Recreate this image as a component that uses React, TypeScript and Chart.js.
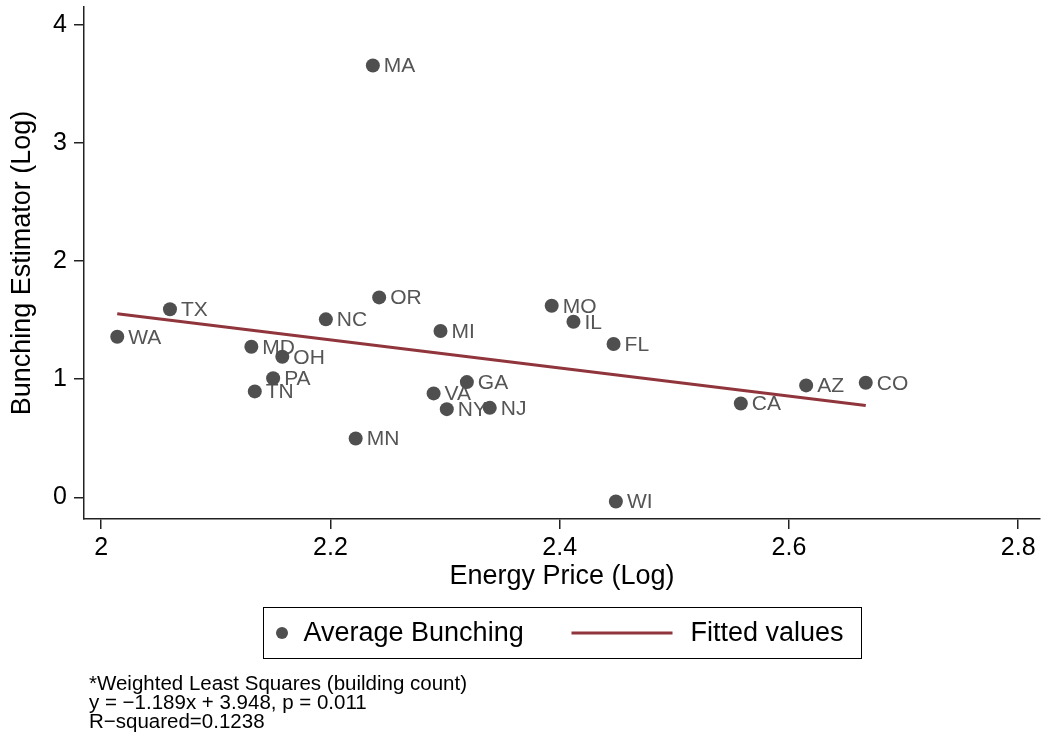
import React, { useEffect, useRef } from 'react';
import { Chart, registerables } from 'chart.js';

Chart.register(...registerables);

const FONT = '"Liberation Sans", Arial, Helvetica, sans-serif';

// State-level observations
const states = ['WA', 'TX', 'MD', 'OH', 'PA', 'TN', 'NC', 'OR', 'MN', 'MA', 'MI', 'VA', 'GA', 'NY', 'NJ', 'MO', 'IL', 'FL', 'WI', 'CA', 'AZ', 'CO'];
const energyPrice = [2.014, 2.06, 2.131, 2.158, 2.15, 2.134, 2.196, 2.2425, 2.222, 2.237, 2.296, 2.29, 2.319, 2.3015, 2.339, 2.393, 2.412, 2.447, 2.449, 2.558, 2.615, 2.667];
const bunching = [1.359, 1.591, 1.274, 1.189, 1.008, 0.896, 1.506, 1.692, 0.497, 3.655, 1.407, 0.879, 0.975, 0.746, 0.757, 1.621, 1.486, 1.297, -0.036, 0.794, 0.947, 0.969];

// Weighted least squares fit
const fitSlope = -1.189;
const fitIntercept = 3.948;

const xTicks = [2, 2.2, 2.4, 2.6, 2.8];
const yTicks = [0, 1, 2, 3, 4];

const noteLines = [
  '*Weighted Least Squares (building count)',
  'y = \u22121.189x + 3.948, p = 0.011',
  'R\u2212squared=0.1238',
];

const MARKER = '#4f4f4f';
const LABEL = '#555555';
const FIT = '#90353b';
const AXIS = '#222222';

const annotate = {
  id: 'annotate',
  beforeDatasetsDraw(chart: any) {
    const ctx = chart.ctx;
    const meta = chart.getDatasetMeta(0);
    ctx.save();
    ctx.font = `21px ${FONT}`;
    ctx.fillStyle = LABEL;
    ctx.textBaseline = 'middle';
    ctx.textAlign = 'left';
    meta.data.forEach((el: any, i: number) => {
      ctx.fillText(states[i], el.x + 11, el.y + 1);
    });
    ctx.restore();
  },
  afterDraw(chart: any) {
    const ctx = chart.ctx;
    const area = chart.chartArea;
    const cx = (area.left + area.right) / 2;
    const boxW = 598;
    const left = Math.round(cx - boxW / 2) + 0.5;
    const top = 607.5;
    const boxH = 51;
    const midY = top + boxH / 2;
    ctx.save();
    ctx.strokeStyle = '#000';
    ctx.lineWidth = 1;
    ctx.strokeRect(left, top, boxW, boxH);

    ctx.fillStyle = MARKER;
    ctx.beginPath();
    ctx.arc(left + 18.5, midY, 6, 0, Math.PI * 2);
    ctx.fill();

    ctx.font = `27px ${FONT}`;
    ctx.fillStyle = '#000';
    ctx.textBaseline = 'middle';
    ctx.fillText('Average Bunching', left + 40, midY + 1);

    ctx.strokeStyle = FIT;
    ctx.lineWidth = 3;
    ctx.beginPath();
    ctx.moveTo(left + 308, midY);
    ctx.lineTo(left + 409, midY);
    ctx.stroke();

    ctx.fillStyle = '#000';
    ctx.fillText('Fitted values', left + 427, midY + 1);

    ctx.font = `20.5px ${FONT}`;
    ctx.textBaseline = 'middle';
    noteLines.forEach((t, i) => {
      ctx.fillText(t, 89, 684 + i * 19);
    });
    ctx.restore();
  },
};

const noEdgePadding = (s: any) => {
  s.paddingTop = 0;
  s.paddingBottom = 0;
  s.paddingLeft = 0;
  s.paddingRight = 0;
};

export default function App() {
  const ref = useRef<HTMLCanvasElement>(null);

  useEffect(() => {
    const points = energyPrice.map((x, i) => ({ x, y: bunching[i] }));
    const xMin = Math.min(...energyPrice);
    const xMax = Math.max(...energyPrice);
    const fitted = [
      { x: xMin, y: fitSlope * xMin + fitIntercept },
      { x: xMax, y: fitSlope * xMax + fitIntercept },
    ];

    const chart = new Chart(ref.current as HTMLCanvasElement, {
      type: 'scatter',
      data: {
        datasets: [
          {
            label: 'Average Bunching',
            data: points,
            pointRadius: 7,
            pointBackgroundColor: MARKER,
            pointBorderWidth: 0,
            backgroundColor: MARKER,
            order: 1,
          },
          {
            type: 'line',
            label: 'Fitted values',
            data: fitted,
            borderColor: FIT,
            borderWidth: 3,
            pointRadius: 0,
            showLine: true,
            fill: false,
            order: 0,
          } as any,
        ],
      },
      options: {
        responsive: false,
        animation: false,
        devicePixelRatio: 1,
        layout: { autoPadding: false, padding: { top: 7, right: 8, left: 0, bottom: 143 } },
        plugins: {
          legend: { display: false },
          tooltip: { enabled: false },
        },
        scales: {
          x: {
            type: 'linear',
            min: 1.985,
            max: 2.819,
            afterBuildTicks: (s: any) => {
              s.ticks = xTicks.map((v) => ({ value: v }));
            },
            afterFit: (s: any) => {
              s.height = 80;
              noEdgePadding(s);
            },
            grid: { display: true, drawOnChartArea: false, drawTicks: true, tickLength: 10, color: AXIS, lineWidth: 1.5 },
            border: { display: true, color: AXIS, width: 1.5 },
            ticks: {
              color: '#000',
              font: { family: FONT, size: 25 },
              padding: 4,
              maxRotation: 0,
              autoSkip: false,
              callback: (v: any) => String(v),
            },
            title: {
              display: true,
              text: 'Energy Price (Log)',
              color: '#000',
              font: { family: FONT, size: 27 },
              padding: { top: 0, bottom: 6 },
            },
          },
          y: {
            type: 'linear',
            min: -0.184,
            max: 4.15,
            afterBuildTicks: (s: any) => {
              s.ticks = yTicks.map((v) => ({ value: v }));
            },
            afterFit: (s: any) => {
              s.width = 84;
              noEdgePadding(s);
            },
            grid: { display: true, drawOnChartArea: false, drawTicks: true, tickLength: 10, color: AXIS, lineWidth: 1.5 },
            border: { display: true, color: AXIS, width: 1.5 },
            ticks: {
              color: '#000',
              font: { family: FONT, size: 25 },
              padding: 7,
              autoSkip: false,
              callback: (v: any) => String(v),
            },
            title: {
              display: true,
              text: 'Bunching Estimator (Log)',
              color: '#000',
              font: { family: FONT, size: 27 },
              padding: { top: 6, bottom: 0 },
            },
          },
        },
      },
      plugins: [annotate],
    });
    return () => chart.destroy();
  }, []);

  return (
    <div style={{ position: 'absolute', left: 0, top: 0, width: 1048, height: 742, background: '#fff' }}>
      <canvas ref={ref} width={1048} height={742} style={{ display: 'block' }} />
    </div>
  );
}
